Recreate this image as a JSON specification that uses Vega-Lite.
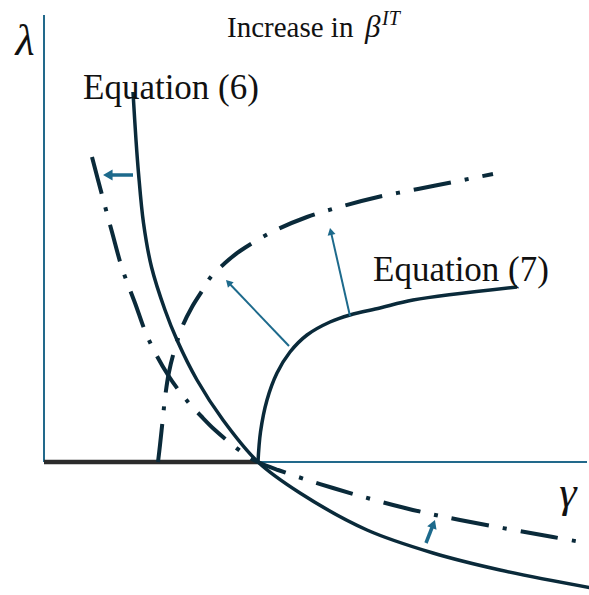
{
  "$schema": "https://vega.github.io/schema/vega-lite/v6.json",
  "width": 589,
  "height": 595,
  "autosize": {"type": "fit", "contains": "padding"},
  "padding": 0,
  "background": "white",
  "config": {"view": {"stroke": null}},
  "datasets": {
    "axes": [
      {"part": "lambda", "x": 0, "y": 0, "x2": 0, "y2": 447},
      {"part": "gamma", "x": 0, "y": 0, "x2": 543, "y2": 0}
    ],
    "zeroLambda": [
      {"x": 0, "y": 0, "x2": 214, "y2": 0}
    ],
    "eq6": [
      {"x": 89, "y": 370}, {"x": 92, "y": 322}, {"x": 94.5, "y": 289}, {"x": 99.5, "y": 239},
      {"x": 107.5, "y": 195}, {"x": 121, "y": 152}, {"x": 133, "y": 122}, {"x": 153, "y": 82},
      {"x": 179, "y": 42}, {"x": 214, "y": 0}, {"x": 256, "y": -31}, {"x": 323, "y": -68},
      {"x": 389, "y": -91}, {"x": 456, "y": -108}, {"x": 548, "y": -126}
    ],
    "eq6Shifted": [
      {"x": 48, "y": 305}, {"x": 58, "y": 267}, {"x": 68, "y": 230}, {"x": 78, "y": 194},
      {"x": 91, "y": 159}, {"x": 104, "y": 124}, {"x": 124, "y": 87}, {"x": 144, "y": 60},
      {"x": 157, "y": 46}, {"x": 171, "y": 32}, {"x": 199, "y": 9}, {"x": 214, "y": 0},
      {"x": 234, "y": -8}, {"x": 289, "y": -26}, {"x": 361, "y": -46}, {"x": 416, "y": -58},
      {"x": 509, "y": -75}, {"x": 548, "y": -82}
    ],
    "eq7": [
      {"x": 214, "y": 0}, {"x": 216.5, "y": 30}, {"x": 223, "y": 62}, {"x": 233, "y": 89},
      {"x": 246, "y": 110}, {"x": 263, "y": 127}, {"x": 286, "y": 140}, {"x": 306, "y": 147},
      {"x": 336, "y": 154}, {"x": 369, "y": 162}, {"x": 473, "y": 175}
    ],
    "eq7Shifted": [
      {"x": 114, "y": 0}, {"x": 116, "y": 17}, {"x": 119, "y": 45}, {"x": 121, "y": 64},
      {"x": 125, "y": 90}, {"x": 132, "y": 117}, {"x": 139, "y": 137}, {"x": 148, "y": 155},
      {"x": 158, "y": 171}, {"x": 166, "y": 184}, {"x": 181, "y": 199}, {"x": 196, "y": 211},
      {"x": 228, "y": 230}, {"x": 263, "y": 245}, {"x": 299, "y": 256}, {"x": 334, "y": 265},
      {"x": 374, "y": 273}, {"x": 409, "y": 280}, {"x": 449, "y": 288}
    ],
    "arrows": [
      {"arrow": "a1", "x": 89, "y": 287, "x2": 63.8, "y2": 287},
      {"arrow": "a2", "x": 245, "y": 116, "x2": 184.4, "y2": 179.5},
      {"arrow": "a3", "x": 306, "y": 146, "x2": 286.8, "y2": 230.6},
      {"arrow": "a4", "x": 382, "y": -81, "x2": 389.4, "y2": -62}
    ],
    "labels": [
      {"key": "title", "text": "Increase in", "x": 183, "y": 425},
      {"key": "beta", "text": "β", "x": 321, "y": 425},
      {"key": "sup", "text": "IT", "x": 338, "y": 437},
      {"key": "eq6", "text": "Equation (6)", "x": 39, "y": 363},
      {"key": "eq7", "text": "Equation (7)", "x": 329, "y": 181},
      {"key": "lambda", "text": "λ", "x": -19, "y": 407},
      {"key": "gamma", "text": "γ", "x": 524, "y": -45}
    ]
  },
  "encoding": {
    "x": {"field": "x", "type": "quantitative", "scale": {"domain": [-44, 545], "nice": false, "zero": false}, "axis": null},
    "y": {"field": "y", "type": "quantitative", "scale": {"domain": [-133, 462], "nice": false, "zero": false}, "axis": null}
  },
  "layer": [
    {
      "data": {"name": "axes"},
      "mark": {"type": "rule", "color": "#22698b", "strokeWidth": 2, "clip": true},
      "encoding": {"x2": {"field": "x2"}, "y2": {"field": "y2"}}
    },
    {
      "data": {"name": "zeroLambda"},
      "mark": {"type": "rule", "color": "#2b2b2b", "strokeWidth": 4.5, "clip": true},
      "encoding": {"x2": {"field": "x2"}, "y2": {"field": "y2"}}
    },
    {
      "data": {"name": "eq6"},
      "mark": {"type": "line", "interpolate": "catmull-rom", "color": "#0a2a3a", "strokeWidth": 3.5, "clip": true}
    },
    {
      "data": {"name": "eq7"},
      "mark": {"type": "line", "interpolate": "catmull-rom", "color": "#0a2a3a", "strokeWidth": 3.5, "clip": true}
    },
    {
      "data": {"name": "eq6Shifted"},
      "mark": {"type": "line", "interpolate": "catmull-rom", "color": "#0a2a3a", "strokeWidth": 4, "strokeDash": [38, 14, 4, 14], "strokeCap": "butt", "clip": true}
    },
    {
      "data": {"name": "eq7Shifted"},
      "mark": {"type": "line", "interpolate": "catmull-rom", "color": "#0a2a3a", "strokeWidth": 4, "strokeDash": [38, 14, 4, 14], "strokeCap": "butt", "clip": true}
    },
    {
      "data": {"name": "arrows"},
      "transform": [{"filter": "datum.arrow === 'a1' || datum.arrow === 'a4'"}],
      "mark": {"type": "rule", "color": "#1d6a8c", "strokeWidth": 3.5},
      "encoding": {"x2": {"field": "x2"}, "y2": {"field": "y2"}}
    },
    {
      "data": {"name": "arrows"},
      "transform": [{"filter": "datum.arrow === 'a2' || datum.arrow === 'a3'"}],
      "mark": {"type": "rule", "color": "#1d6a8c", "strokeWidth": 2},
      "encoding": {"x2": {"field": "x2"}, "y2": {"field": "y2"}}
    },
    {
      "data": {"name": "arrows"},
      "transform": [{"filter": "datum.arrow === 'a1'"}],
      "mark": {"type": "point", "shape": "triangle-up", "filled": true, "color": "#1d6a8c", "size": 121, "angle": 270, "opacity": 1},
      "encoding": {"x": {"field": "x2", "type": "quantitative"}, "y": {"field": "y2", "type": "quantitative"}}
    },
    {
      "data": {"name": "arrows"},
      "transform": [{"filter": "datum.arrow === 'a2'"}],
      "mark": {"type": "point", "shape": "triangle-up", "filled": true, "color": "#1d6a8c", "size": 64, "angle": 316, "opacity": 1},
      "encoding": {"x": {"field": "x2", "type": "quantitative"}, "y": {"field": "y2", "type": "quantitative"}}
    },
    {
      "data": {"name": "arrows"},
      "transform": [{"filter": "datum.arrow === 'a3'"}],
      "mark": {"type": "point", "shape": "triangle-up", "filled": true, "color": "#1d6a8c", "size": 64, "angle": 347, "opacity": 1},
      "encoding": {"x": {"field": "x2", "type": "quantitative"}, "y": {"field": "y2", "type": "quantitative"}}
    },
    {
      "data": {"name": "arrows"},
      "transform": [{"filter": "datum.arrow === 'a4'"}],
      "mark": {"type": "point", "shape": "triangle-up", "filled": true, "color": "#1d6a8c", "size": 100, "angle": 21, "opacity": 1},
      "encoding": {"x": {"field": "x2", "type": "quantitative"}, "y": {"field": "y2", "type": "quantitative"}}
    },
    {
      "data": {"name": "labels"},
      "transform": [{"filter": "datum.key === 'title'"}],
      "mark": {"type": "text", "font": "'Liberation Serif', 'DejaVu Serif', serif", "fontSize": 29, "color": "#111111", "align": "left", "baseline": "alphabetic"},
      "encoding": {"text": {"field": "text"}}
    },
    {
      "data": {"name": "labels"},
      "transform": [{"filter": "datum.key === 'beta'"}],
      "mark": {"type": "text", "font": "'Liberation Serif', 'DejaVu Serif', serif", "fontStyle": "italic", "fontSize": 31, "color": "#111111", "align": "left", "baseline": "alphabetic"},
      "encoding": {"text": {"field": "text"}}
    },
    {
      "data": {"name": "labels"},
      "transform": [{"filter": "datum.key === 'sup'"}],
      "mark": {"type": "text", "font": "'Liberation Serif', 'DejaVu Serif', serif", "fontStyle": "italic", "fontSize": 20, "color": "#111111", "align": "left", "baseline": "alphabetic"},
      "encoding": {"text": {"field": "text"}}
    },
    {
      "data": {"name": "labels"},
      "transform": [{"filter": "datum.key === 'eq6' || datum.key === 'eq7'"}],
      "mark": {"type": "text", "font": "'Liberation Serif', 'DejaVu Serif', serif", "fontSize": 35, "color": "#111111", "align": "left", "baseline": "alphabetic"},
      "encoding": {"text": {"field": "text"}}
    },
    {
      "data": {"name": "labels"},
      "transform": [{"filter": "datum.key === 'lambda' || datum.key === 'gamma'"}],
      "mark": {"type": "text", "font": "'Liberation Serif', 'DejaVu Serif', serif", "fontStyle": "italic", "fontSize": 44, "color": "#111111", "align": "center", "baseline": "alphabetic"},
      "encoding": {"text": {"field": "text"}}
    }
  ]
}
